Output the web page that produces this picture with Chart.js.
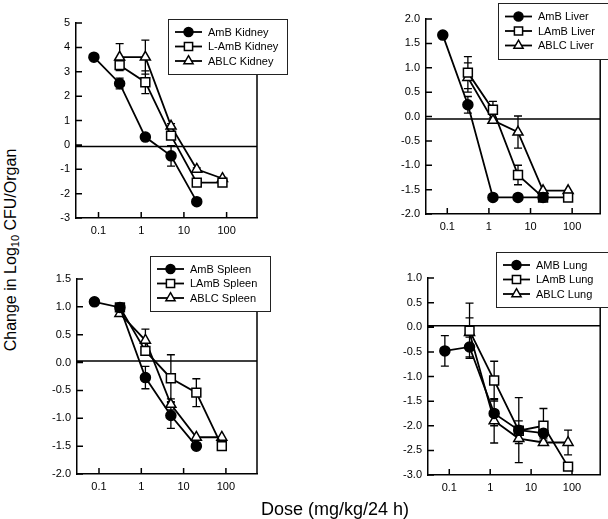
<!DOCTYPE html>
<html>
<head>
<meta charset="utf-8">
<script src="https://cdn.jsdelivr.net/npm/chart.js@4.4.0/dist/chart.umd.min.js"></script>
<style>
  body { margin:0; background:#fff; width:608px; height:519px; position:relative; overflow:hidden;
         font-family:"Liberation Sans", Arial, sans-serif; color:#000; }
  canvas { position:absolute; }
  #ytitle { position:absolute; left:11px; top:250px; transform:translate(-50%,-50%) rotate(-90deg);
            font-size:16px; white-space:nowrap; line-height:16px; }
  #ytitle sub { font-size:11px; vertical-align:-3px; line-height:0; }
  #xtitle { position:absolute; left:335px; top:509px; transform:translate(-50%,-50%);
            font-size:18px; white-space:nowrap; }
</style>
</head>
<body>
<canvas id="kidney" width="268" height="250" style="left:40px;top:0px"></canvas>
<canvas id="liver" width="278" height="250" style="left:330px;top:0px"></canvas>
<canvas id="spleen" width="268" height="250" style="left:40px;top:250px"></canvas>
<canvas id="lung" width="278" height="250" style="left:330px;top:250px"></canvas>
<div id="ytitle">Change in Log<sub>10</sub> CFU/Organ</div>
<div id="xtitle">Dose (mg/kg/24 h)</div>
<script>
// doses (mg/kg/24 h) shared by all panels
var doses = [0.078, 0.3125, 1.25, 5, 20, 80];
var xTickValues = [0.1, 1, 10, 100];
var xTickLabels = ['0.1', '1', '10', '100'];

// kidney
var kidneyLabels = ['AmB Kidney', 'L-AmB Kidney', 'ABLC Kidney'];
var kidneyAmB = [3.6, 2.52, 0.32, -0.45, -2.33, null];
var kidneyAmBErr = [0, 0.22, 0, 0.42, 0, null];
var kidneyLAmB = [null, 3.27, 2.57, 0.38, -1.55, -1.55];
var kidneyLAmBErr = [null, 0.1, 0.47, 0.15, 0, 0];
var kidneyABLC = [null, 3.6, 3.6, 0.77, -1.0, -1.38];
var kidneyABLCErr = [null, 0.55, 0.7, 0.1, 0.06, 0.05];

// liver
var liverLabels = ['AmB Liver', 'LAmB Liver', 'ABLC Liver'];
var liverAmB = [1.67, 0.24, -1.66, -1.66, -1.66, null];
var liverAmBErr = [0, 0.17, 0, 0, 0, null];
var liverLAmB = [null, 0.9, 0.14, -1.2, -1.66, -1.66];
var liverLAmBErr = [null, 0.33, 0.17, 0.2, 0, 0];
var liverABLC = [null, 0.8, -0.08, -0.32, -1.52, -1.52];
var liverABLCErr = [null, 0.3, 0.05, 0.33, 0, 0];

// spleen
var spleenLabels = ['AmB Spleen', 'LAmB Spleen', 'ABLC Spleen'];
var spleenAmB = [1.09, 0.99, -0.27, -0.95, -1.5, null];
var spleenAmBErr = [0, 0, 0.2, 0.23, 0, null];
var spleenLAmB = [null, 0.99, 0.21, -0.28, -0.54, -1.5];
var spleenLAmBErr = [null, 0, 0.05, 0.42, 0.25, 0];
var spleenABLC = [null, 0.88, 0.4, -0.75, -1.34, -1.34];
var spleenABLCErr = [null, 0, 0.2, 0.1, 0, 0];

// lung
var lungLabels = ['AMB Lung', 'LAmB Lung', 'ABLC Lung'];
var lungAmB = [-0.48, -0.4, -1.75, -2.09, -2.15, null];
var lungAmBErr = [0.31, 0.2, 0.25, 0.66, 0.1, null];
var lungLAmB = [null, -0.07, -1.08, -2.1, -2.0, -2.83];
var lungLAmBErr = [null, 0.56, 0.39, 0.2, 0.35, 0];
var lungABLC = [null, -0.11, -1.9, -2.26, -2.34, -2.34];
var lungABLCErr = [null, 0.3, 0.45, 0.1, 0.05, 0.25];

var FONT = '"Liberation Sans", Arial, sans-serif';
var markers = [
  { style: 'circle', radius: 5, fill: '#000' },
  { style: 'rect', radius: 6.3, fill: '#fff' },
  { style: 'triangle', radius: 5.8, fill: '#fff' }
];

function buildPoints(vals, errs) {
  var pts = [];
  for (var i = 0; i < doses.length; i++) {
    if (vals[i] === null) continue;
    pts.push({ x: doses[i], y: vals[i], err: errs[i] || 0 });
  }
  return pts;
}

var panelDecor = {
  id: 'panelDecor',
  beforeDatasetsDraw: function(chart, args, opts) {
    var ctx = chart.ctx, a = chart.chartArea, xs = chart.scales.x, ys = chart.scales.y;
    ctx.save();
    ctx.strokeStyle = '#000';
    ctx.lineWidth = 1.5;
    ctx.beginPath();
    ctx.moveTo(a.right, a.top); ctx.lineTo(a.right, a.bottom);
    var zy = ys.getPixelForValue(opts.zero);
    ctx.moveTo(a.left, zy); ctx.lineTo(a.right, zy);
    ys.ticks.forEach(function(t) {
      var py = ys.getPixelForValue(t.value);
      ctx.moveTo(a.left, py); ctx.lineTo(a.left + 6, py);
    });
    xs.ticks.forEach(function(t) {
      var px = xs.getPixelForValue(t.value);
      ctx.moveTo(px, a.bottom); ctx.lineTo(px, a.bottom - 6);
    });
    ctx.stroke();
    // error bars
    ctx.lineWidth = 1.3;
    ctx.beginPath();
    chart.data.datasets.forEach(function(ds) {
      ds.data.forEach(function(p) {
        if (!p.err) return;
        var px = xs.getPixelForValue(p.x);
        var t = ys.getPixelForValue(p.y + p.err), b = ys.getPixelForValue(p.y - p.err);
        ctx.moveTo(px, t); ctx.lineTo(px, b);
        ctx.moveTo(px - 4, t); ctx.lineTo(px + 4, t);
        ctx.moveTo(px - 4, b); ctx.lineTo(px + 4, b);
      });
    });
    ctx.stroke();
    ctx.restore();
  },
  afterDraw: function(chart, args, opts) {
    var ctx = chart.ctx, box = opts.box;
    ctx.save();
    ctx.fillStyle = '#fff';
    ctx.fillRect(box.x, box.y, box.w, box.h);
    ctx.strokeStyle = '#222';
    ctx.lineWidth = 1;
    ctx.strokeRect(box.x + 0.5, box.y + 0.5, box.w, box.h);
    var cy = box.y + box.h / 2;
    chart.data.datasets.forEach(function(ds, k) {
      var ry = cy + (k - 1) * 14.5;
      ctx.strokeStyle = '#000';
      ctx.lineWidth = 1.8;
      ctx.beginPath();
      ctx.moveTo(box.x + 7, ry); ctx.lineTo(box.x + 34, ry);
      ctx.stroke();
      ctx.fillStyle = markers[k].fill;
      ctx.lineWidth = 1.5;
      Chart.helpers.drawPoint(ctx, { pointStyle: markers[k].style, radius: markers[k].radius - 0.5, borderWidth: 1.5, rotation: 0 }, box.x + 20.5, ry);
      ctx.fillStyle = '#000';
      ctx.font = '11px ' + FONT;
      ctx.textBaseline = 'middle';
      ctx.textAlign = 'left';
      ctx.fillText(ds.label, box.x + 40, ry + 0.5);
    });
    ctx.restore();
  }
};

function makePanel(id, p) {
  var series = [[p.a, p.ae], [p.l, p.le], [p.b, p.be]];
  new Chart(document.getElementById(id), {
    type: 'line',
    data: {
      datasets: series.map(function(s, k) {
        return {
          label: p.labels[k],
          data: buildPoints(s[0], s[1]),
          borderColor: '#000',
          borderWidth: 1.8,
          pointStyle: markers[k].style,
          pointRadius: markers[k].radius,
          pointBackgroundColor: markers[k].fill,
          pointBorderColor: '#000',
          pointBorderWidth: 1.5,
          tension: 0,
          fill: false
        };
      })
    },
    options: {
      responsive: false,
      animation: false,
      events: [],
      layout: { padding: p.padding },
      plugins: {
        legend: { display: false },
        tooltip: { enabled: false },
        panelDecor: { zero: p.zero, box: p.box }
      },
      scales: {
        x: {
          type: 'logarithmic',
          min: p.xmin, max: p.xmax, bounds: 'data',
          afterBuildTicks: function(s) { s.ticks = xTickValues.map(function(v) { return { value: v }; }); },
          afterFit: function(s) { s.height = 20; },
          grid: { display: false, drawTicks: false },
          border: { display: true, color: '#000', width: 1.5 },
          ticks: {
            autoSkip: false, maxRotation: 0, padding: 6, color: '#000',
            font: { family: FONT, size: 11 },
            callback: function(v, i) { return xTickLabels[i]; }
          }
        },
        y: {
          min: p.ymin, max: p.ymax,
          afterFit: function(s) { s.width = p.yWidth; },
          grid: { display: false, drawTicks: false },
          border: { display: true, color: '#000', width: 1.5 },
          ticks: {
            stepSize: p.step, padding: 6, color: '#000',
            font: { family: FONT, size: 11 },
            callback: function(v) { return v.toFixed(p.dec); }
          }
        }
      }
    },
    plugins: [panelDecor]
  });
}

makePanel('kidney', {
  labels: kidneyLabels, a: kidneyAmB, ae: kidneyAmBErr, l: kidneyLAmB, le: kidneyLAmBErr, b: kidneyABLC, be: kidneyABLCErr,
  ymin: -3, ymax: 5, step: 1, dec: 0, zero: -0.07, xmin: 0.0297, xmax: 515,
  yWidth: 36, padding: { left: 0, right: 51, top: 23, bottom: 12 },
  box: { x: 128, y: 19, w: 119, h: 55 }
});
makePanel('liver', {
  labels: liverLabels, a: liverAmB, ae: liverAmBErr, l: liverLAmB, le: liverLAmBErr, b: liverABLC, be: liverABLCErr,
  ymin: -2, ymax: 2, step: 0.5, dec: 1, zero: -0.05, xmin: 0.0308, xmax: 472,
  yWidth: 96, padding: { left: 0, right: 2, top: 19, bottom: 16 },
  box: { x: 168, y: 3, w: 120, h: 56 }
});
makePanel('spleen', {
  labels: spleenLabels, a: spleenAmB, ae: spleenAmBErr, l: spleenLAmB, le: spleenLAmBErr, b: spleenABLC, be: spleenABLCErr,
  ymin: -2, ymax: 1.5, step: 0.5, dec: 1, zero: 0.03, xmin: 0.0302, xmax: 543,
  yWidth: 37, padding: { left: 0, right: 51, top: 29, bottom: 6 },
  box: { x: 110, y: 6, w: 120, h: 55 }
});
makePanel('lung', {
  labels: lungLabels, a: lungAmB, ae: lungAmBErr, l: lungLAmB, le: lungLAmBErr, b: lungABLC, be: lungABLCErr,
  ymin: -3, ymax: 1, step: 0.5, dec: 1, zero: 0.03, xmin: 0.0302, xmax: 488,
  yWidth: 98, padding: { left: 0, right: 2, top: 28, bottom: 5 },
  box: { x: 166, y: 2, w: 120, h: 55 }
});
</script>
</body>
</html>
